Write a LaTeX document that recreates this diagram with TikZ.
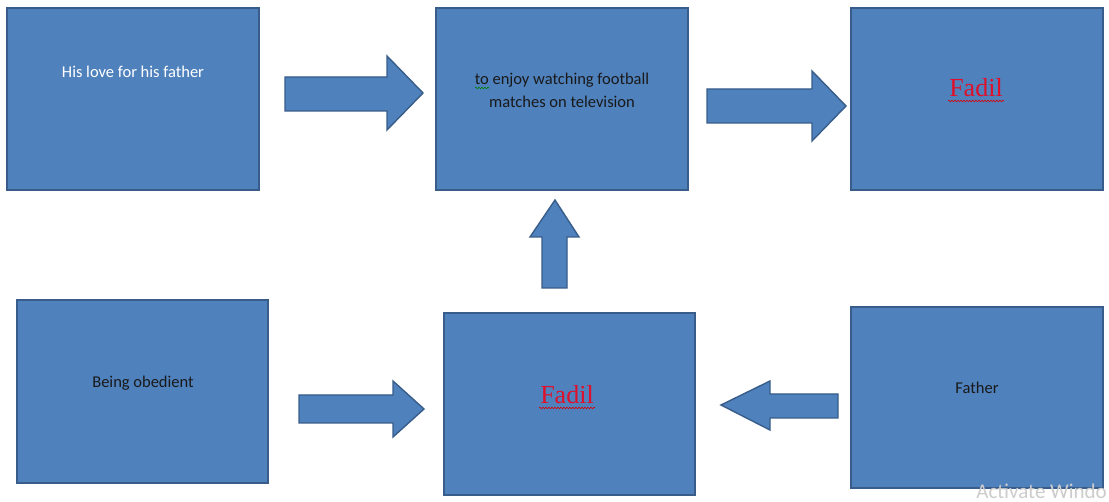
\documentclass[tikz,border=0pt]{standalone}
\usepackage{fontspec}
\setmainfont{Carlito}
\newfontfamily\serifff{Liberation Serif}
\usetikzlibrary{decorations.pathmorphing}
\definecolor{boxfill}{HTML}{4F81BD}
\definecolor{boxline}{HTML}{385D8A}
\definecolor{fadilred}{HTML}{E0102A}
\tikzset{
  blockbox/.style={draw=boxline, line width=1.6pt, fill=boxfill},
  blockarrow/.style={draw=boxline, line width=1.4pt, fill=boxfill, line join=miter},
  boxtext/.style={font=\fontsize{16.5}{23}\selectfont, align=center, text=black!90},
  fadiltext/.style={font=\serifff\fontsize{26}{30}\selectfont, text=fadilred},
  squig/.style={decorate, decoration={snake, amplitude=0.8pt, segment length=3pt}, line width=0.6pt}
}
\begin{document}
\begin{tikzpicture}[x=1pt,y=-1pt]
\useasboundingbox (0,0) rectangle (1109,502);
\fill[white] (0,0) rectangle (1109,502);
% boxes
\draw[blockbox] (7,8) rectangle (259,190);
\draw[blockbox] (436,8) rectangle (688,190);
\draw[blockbox] (851,8) rectangle (1103,190);
\draw[blockbox] (17,300) rectangle (268,483);
\draw[blockbox] (444,313) rectangle (695,495);
\draw[blockbox] (851,307) rectangle (1103,488);
% texts
\node[boxtext, text=white] (t1) at (133,72) {His love for his father};
\node[boxtext] (t2) at (562,90) {to enjoy watching football\\matches on television};
\node[fadiltext] (t3) at (976,88) {Fadil};
\node[boxtext] (t4) at (143,383) {Being obedient};
\node[fadiltext] (t5) at (567,395) {Fadil};
\node[boxtext] (t6) at (977,388) {Father};
% spell-check squiggles
\draw[squig, green!50!black] (475,88) -- (489,88);
\draw[squig, red!85!black] (948,101) -- (1004,101);
\draw[squig, red!85!black] (539,408) -- (595,408);
% block arrows
\draw[blockarrow] (285,77) -- (387,77) -- (387,56) -- (423,93) -- (387,130) -- (387,111) -- (285,111) -- cycle;
\draw[blockarrow] (707,89) -- (812,89) -- (812,71) -- (846,106) -- (812,141) -- (812,123) -- (707,123) -- cycle;
\draw[blockarrow] (542,288) -- (542,237) -- (530,237) -- (555,200) -- (579,237) -- (567,237) -- (567,288) -- cycle;
\draw[blockarrow] (299,395) -- (393,395) -- (393,381) -- (424,409) -- (393,437) -- (393,423) -- (299,423) -- cycle;
\draw[blockarrow] (838,394) -- (770,394) -- (770,381) -- (721,405) -- (770,430) -- (770,418) -- (838,418) -- cycle;
% watermark
\node[anchor=east, font=\fontsize{21}{23}\selectfont, text=black!20, inner sep=1pt] (wm) at (1108,491) {Activate Windo};
\end{tikzpicture}
\end{document}
